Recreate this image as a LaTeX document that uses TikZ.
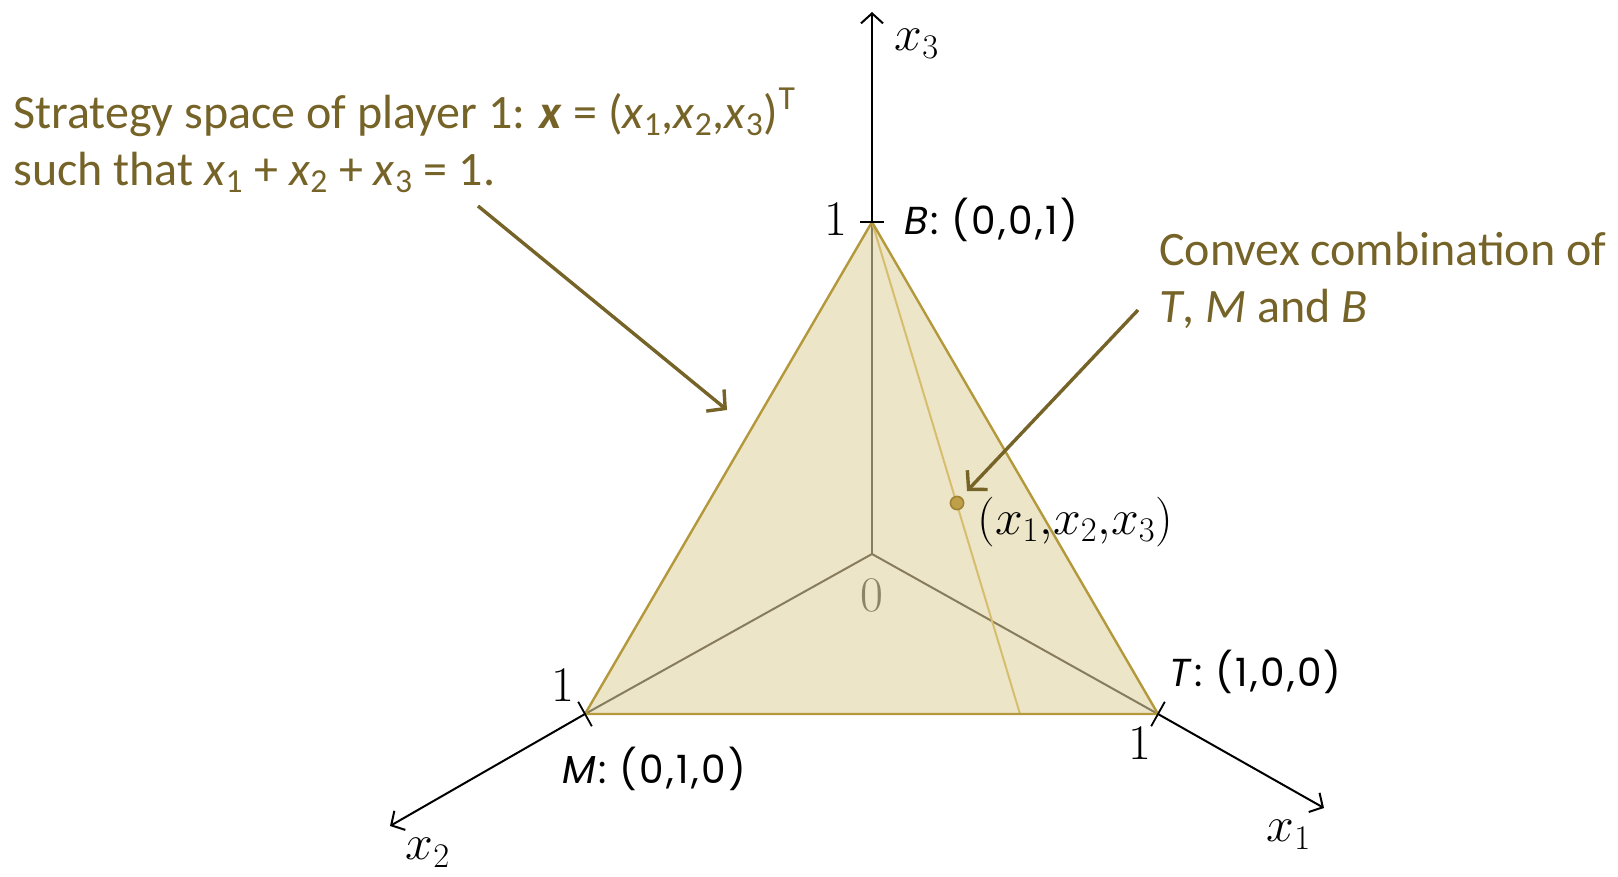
\documentclass[tikz,border=0pt]{standalone}
\usepackage{fontspec}
\usetikzlibrary{arrows.meta, positioning, calc}
\newfontfamily\annfont{Carlito}
\newfontfamily\vertfont[LetterSpace=6]{Poppins}
\definecolor{cOlive}{RGB}{117, 99, 40}
\definecolor{cFill}{RGB}{237, 229, 200}
\definecolor{bEdge}{RGB}{180, 153, 60}
\definecolor{cInner}{RGB}{135, 124, 92}
\definecolor{cChord}{RGB}{214, 190, 110}
\definecolor{cDot}{RGB}{190, 160, 75}
\definecolor{bDot}{RGB}{160, 130, 50}
\definecolor{cZero}{RGB}{140, 132, 104}

\begin{document}
\begin{tikzpicture}[
    x=0.5pt, y=-0.5pt,
    axis/.style={line width=1pt, -{Straight Barb[length=5pt,width=11pt]}},
    inner/.style={line width=1pt, color=cInner},
    tickmark/.style={line width=0.9pt},
    pointer/.style={line width=1.7pt, color=cOlive, -{Straight Barb[length=6.5pt,width=14pt,line width=1.7pt]}},
    note/.style={font=\annfont\fontsize{24}{28.5}\selectfont, text=cOlive, align=left, inner sep=0pt},
    vlabel/.style={font=\vertfont\fontsize{19.5}{22}\selectfont, inner sep=0pt},
    mlabel/.style={font=\fontsize{23.5}{26}\selectfont, inner sep=0pt}
]
\useasboundingbox (0,0) rectangle (1618,877);

% corners of the simplex and axis ends
\coordinate (O) at (872,554);
\coordinate (B) at (872,222);
\coordinate (M) at (585,714);
\coordinate (T) at (1158,714);
\coordinate (x3end) at (872,12);
\coordinate (x2end) at (390,826);
\coordinate (x1end) at (1324,808);
\coordinate (chordend) at (1020,714);
\coordinate (P) at (957,503);

% simplex face
\fill[cFill] (T) -- (B) -- (M) -- cycle;
\draw[inner] (O) -- (B);
\draw[inner] (O) -- (M);
\draw[inner] (O) -- (T);
\draw[line width=1pt, color=cChord] (B) -- (chordend);
\draw[line width=1.2pt, color=bEdge, line join=round] (T) -- (B) -- (M) -- cycle;

% axes
\draw[axis] (B) -- (x3end);
\draw[axis] (M) -- (x2end);
\draw[axis] (T) -- (x1end);
\draw[tickmark] ($(B)+(-12,0)$) -- ($(B)+(12,0)$);
\draw[tickmark] ($(M)!7pt!90:(O)$) -- ($(M)!7pt!-90:(O)$);
\draw[tickmark] ($(T)!7pt!90:(O)$) -- ($(T)!7pt!-90:(O)$);

\node[mlabel] (lx3) at (917,44) {$x_3$};
\node[mlabel] (lx2) at (428,853) {$x_2$};
\node[mlabel] (lx1) at (1289,835) {$x_1$};
\node[mlabel] (oneB) at (836,219) {$1$};
\node[mlabel] (oneM) at (563,685) {$1$};
\node[mlabel] (oneT) at (1140,743) {$1$};
\node[mlabel, text=cZero] (zero) at (872,595) {$0$};

\node[vlabel, anchor=west] (labB) at (904,220) {\textit{B}: (0,0,1)};
\node[vlabel, anchor=west] (labM) at (562,769) {\textit{M}: (0,1,0)};
\node[vlabel, anchor=west] (labT) at (1169,672) {\textit{T}: (1,0,0)};

% mixed strategy
\filldraw[fill=cDot, draw=bDot, line width=0.8pt] (P) circle[radius=3.3pt];
\node[mlabel, anchor=west] (labP) at (977,522) {$(x_1{,}x_2{,}x_3)$};

% annotations
\node[note, anchor=north west] (space) at (13,88) {Strategy space of player 1: \textbf{\textit{x}} = (\textit{x}\textsubscript{1},\textit{x}\textsubscript{2},\textit{x}\textsubscript{3})\textsuperscript{T}\\
such that \textit{x}\textsubscript{1} + \textit{x}\textsubscript{2} + \textit{x}\textsubscript{3} = 1.};
\node[note, anchor=north west] (convex) at (1159,232) {Convex combination of\\
\textit{T}, \textit{M} and \textit{B}};

\coordinate (spacetail) at (478,206);
\coordinate (spacehead) at (727,410);
\coordinate (convextail) at (1138,310);
\coordinate (convexhead) at (967,491);
\draw[pointer] (spacetail) -- (spacehead);
\draw[pointer] (convextail) -- (convexhead);

\end{tikzpicture}
\end{document}
